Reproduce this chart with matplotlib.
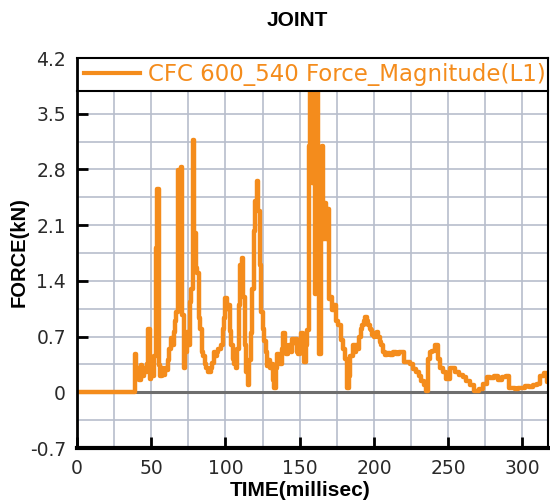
import matplotlib
matplotlib.use("Agg")
import matplotlib.pyplot as plt
from matplotlib.patches import Rectangle
from matplotlib.ticker import MultipleLocator

# Joint force magnitude history (CFC 600 filtered)
time_ms = [
    0, 38.5, 39.5, 40.5, 41.5, 42.5, 43.5, 44.5, 45.5, 46.5, 47.5, 48.5, 49.5,
    50.5, 51.5, 52.5, 53.5, 54.5, 55.5, 56.5, 57.5, 58.5, 59.5, 60.5, 61.5,
    62.5, 63.5, 64.5, 65.5, 66.5, 67.5, 68.5, 69.5, 70.5, 71.5, 72.5, 73.5,
    74.5, 75.5, 76.5, 77.5, 78.5, 79.5, 80.5, 81.5, 82.5, 83.5, 84.5, 85.5,
    86.5, 87.5, 88.5, 89.5, 90.5, 91.5, 92.5, 93.5, 94.5, 95.5, 96.5, 97.5,
    98.5, 99.5, 100.5, 101.5, 102.5, 103.5, 104.5, 105.5, 106.5, 107.5, 108.5,
    109.5, 110.5, 111.5, 112.5, 113.5, 114.5, 115.5, 116.5, 117.5, 118.5,
    119.5, 120.5, 121.5, 122.5, 123.5, 124.5, 125.5, 126.5, 127.5, 128.5,
    129.5, 130.5, 131.5, 132.5, 133.5, 134.5, 135.5, 136.5, 137.5, 138.5,
    139.5, 140.5, 141.5, 142.5, 143.5, 144.5, 145.5, 146.5, 147.5, 148.5,
    149.5, 150.5, 151.5, 152.5, 153.5, 154.5, 155.5, 156.5, 157.5, 158.5,
    159.5, 160.5, 161.5, 162.5, 163.5, 164.5, 165.5, 166.5, 167.5, 168.5,
    169.5, 170.5, 171.5, 172.5, 173.5, 175, 177, 178.5, 180, 181, 182.5,
    183.5, 184.5, 185.5, 186.5, 187.5, 188.5, 189.5, 190.5, 191.5, 192.5,
    193.5, 194.5, 195.5, 196.5, 197.5, 198.5, 199.5, 200.5, 201.5, 202.5,
    203.5, 204.5, 205.5, 206.5, 208, 210, 212, 214, 216, 218, 219.5, 221,
    223, 225, 227, 229, 231, 233, 234.5, 236, 237, 238.5, 240, 242.5, 244,
    245.5, 247, 250, 253, 256, 258.5, 261, 263.5, 266, 269, 272, 275, 277,
    279.5, 282, 285, 288, 290, 292, 294, 296, 298, 300, 303, 306, 308, 311,
    313, 316, 317.5,
]
force_kn = [
    0, 0, 0.48, 0.20, 0.30, 0.15, 0.34, 0.20, 0.30, 0.25, 0.36, 0.80, 0.17,
    0.36, 0.20, 0.45, 1.81, 2.56, 0.34, 0.20, 0.30, 0.22, 0.30, 0.28, 0.40,
    0.55, 0.68, 0.60, 0.76, 0.90, 1.01, 2.79, 1.30, 2.83, 0.97, 0.30, 0.50,
    0.76, 0.60, 1.14, 1.30, 3.17, 2.00, 1.56, 1.50, 0.93, 0.80, 0.50, 0.45,
    0.35, 0.30, 0.25, 0.25, 0.30, 0.37, 0.50, 0.45, 0.50, 0.55, 0.55, 0.60,
    0.80, 0.93, 1.18, 1.05, 1.10, 0.77, 0.60, 0.42, 0.35, 0.30, 0.55,
    1.10, 1.60, 1.69, 1.20, 0.60, 0.25, 0.09, 0.40, 0.75, 1.30,
    2.03, 2.40, 2.66, 2.28, 1.60, 1.01, 0.80, 0.64, 0.50, 0.33,
    0.40, 0.30, 0.35, 0.15, 0.06, 0.30, 0.48, 0.40, 0.35, 0.55,
    0.74, 0.60, 0.48, 0.55, 0.60, 0.50, 0.67, 0.62, 0.67, 0.50,
    0.48, 0.60, 0.74, 0.55, 0.38, 0.60, 0.78, 3.10, 4.00, 2.63,
    4.00, 1.24, 3.90, 2.60, 0.48, 2.55, 3.10, 1.93, 2.38, 1.93,
    2.30, 1.17, 1.20, 1.04, 1.10, 0.90, 0.85, 0.66, 0.55, 0.42, 0.05,
    0.20, 0.45, 0.45, 0.60, 0.50, 0.60, 0.55, 0.70, 0.80, 0.85,
    0.90, 0.95, 0.90, 0.85, 0.80, 0.78, 0.72, 0.70, 0.74, 0.76,
    0.70, 0.63, 0.60, 0.50, 0.47, 0.49, 0.47, 0.51, 0.48, 0.51, 0.50, 0.38,
    0.38, 0.36, 0.29, 0.25, 0.20, 0.14, 0.09, 0.02, 0.42, 0.50, 0.52, 0.59, 0.42,
    0.30, 0.25, 0.17, 0.30, 0.25, 0.22, 0.19, 0.14, 0.09, 0.01, 0.04, 0.10, 0.19,
    0.18, 0.21, 0.15, 0.19, 0.21, 0.06, 0.05, 0.04, 0.05, 0.06, 0.08, 0.07, 0.09, 0.10,
    0.21, 0.24, 0.13,
]

series_label = "CFC 600_540 Force_Magnitude(L1)"
x_ticks = [0, 50, 100, 150, 200, 250, 300]
y_ticks = [-0.7, 0, 0.7, 1.4, 2.1, 2.8, 3.5, 4.2]
y_tick_labels = ["-0.7", "0", "0.7", "1.4", "2.1", "2.8", "3.5", "4.2"]

orange = "#F48C1C"
grid_c = "#B7BECC"

fig = plt.figure(figsize=(5.5, 5.04), dpi=100)
ax = fig.add_axes([77 / 550, 1 - 448 / 504, 471 / 550, 390 / 504])

ax.set_xlim(0, 317.2)
ax.set_ylim(-0.7, 4.2)

# grid every 25 ms and 0.35 kN
ax.xaxis.set_minor_locator(MultipleLocator(25))
ax.yaxis.set_minor_locator(MultipleLocator(0.35))
ax.grid(which="both", color=grid_c, linewidth=1.2, zorder=0)
ax.set_axisbelow(True)

ax.axhline(0, color="#6E6E6E", linewidth=2.2, zorder=1)
ax.plot(time_ms, force_kn, color=orange, linewidth=3.2, zorder=2,
        label=series_label, drawstyle="steps-mid")

# legend band across the top of the plot area
band_y = (3.79 + 0.7) / 4.9
ax.add_patch(Rectangle((0, band_y), 1, 1 - band_y, transform=ax.transAxes,
                       facecolor="white", edgecolor="none", zorder=4,
                       clip_on=False))
ax.plot([0, 1], [band_y, band_y], transform=ax.transAxes, color="black",
        linewidth=1.5, zorder=4.5, clip_on=False)
leg = ax.legend(loc="center left", bbox_to_anchor=(-0.005, (1 + band_y) / 2),
                frameon=False, handlelength=2.45, handletextpad=0.35,
                borderaxespad=0, prop={"family": "DejaVu Sans", "size": 16.5})
leg.set_zorder(5)
for t in leg.get_texts():
    t.set_color(orange)
for h in leg.get_lines():
    h.set_linewidth(3.0)

ax.set_xticks(x_ticks)
ax.set_yticks(y_ticks)
ax.set_yticklabels(y_tick_labels)
ax.tick_params(which="major", direction="in", length=8, width=2,
               labelsize=13.5, colors="black", labelcolor="#2a2a2a", pad=8)
ax.tick_params(which="minor", length=0)
for lab in ax.get_xticklabels() + ax.get_yticklabels():
    lab.set_family("DejaVu Sans")

ax.spines["left"].set_linewidth(2)
ax.spines["bottom"].set_linewidth(3)
ax.spines["top"].set_linewidth(1.5)
ax.spines["right"].set_linewidth(1.5)
for s in ax.spines.values():
    s.set_zorder(6)

fig.text(297 / 550, 1 - 21 / 504, "JOINT", ha="center", va="center",
         family="Liberation Sans", weight="bold", fontsize=15)
fig.text(300 / 550, 1 - 490 / 504, "TIME(millisec)", ha="center",
         va="center", family="Liberation Sans", weight="bold", fontsize=15)
fig.text(19 / 550, 1 - 252 / 504, "FORCE(kN)", ha="center", va="center",
         rotation=90, family="Liberation Sans", weight="bold", fontsize=14.5)

fig.savefig("out.png", dpi=100)
